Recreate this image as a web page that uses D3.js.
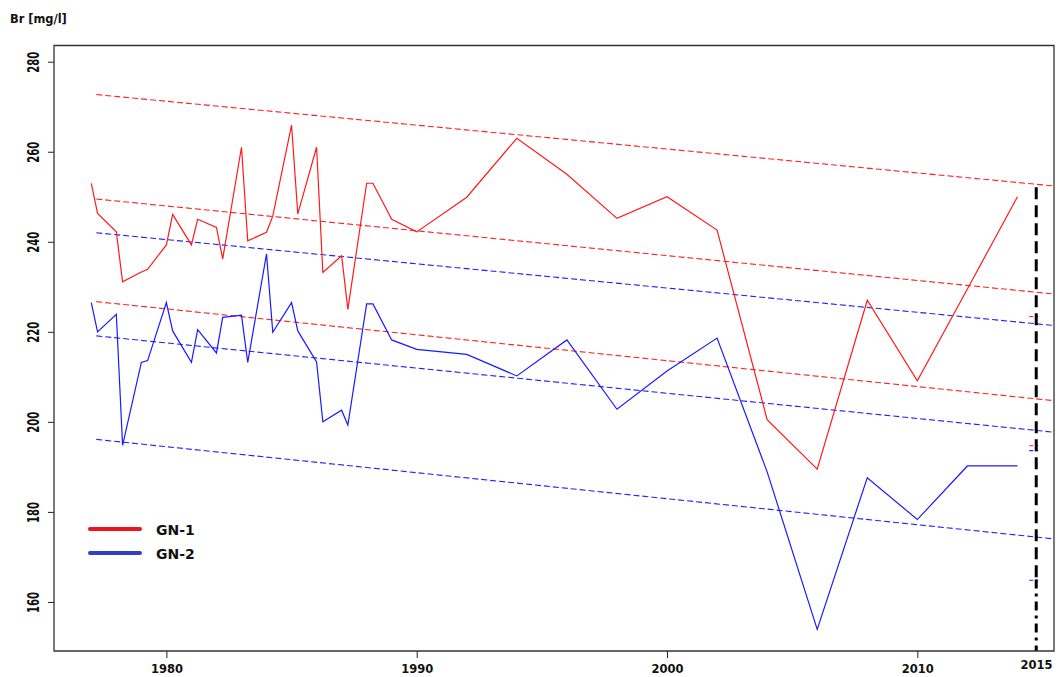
<!DOCTYPE html>
<html>
<head>
<meta charset="utf-8">
<script src="https://cdn.jsdelivr.net/npm/d3@7"></script>
<style>
  body { margin: 0; background: #fff; }
  svg { display: block; font-family: "DejaVu Sans", Verdana, sans-serif; }
</style>
</head>
<body>
<svg id="canvas" width="1059" height="677"></svg>
<script>

// sampling dates (decimal years)
var years = [1977.0, 1977.25, 1978.0, 1978.25, 1979.0, 1979.25, 1980.0, 1980.25,
	1981.0, 1981.25, 1982.0, 1982.25, 1983.0, 1983.25, 1984.0, 1984.25,
	1985.0, 1985.25, 1986.0, 1986.25, 1987.0, 1987.25, 1988.0, 1988.25,
	1989.0, 1990, 1992, 1994, 1996, 1998, 2000, 2002, 2004, 2006, 2008, 2010, 2012, 2014];

// Br [mg/l]
var gn1 = [253.0, 246.3, 242.2, 231.1, 233.3, 233.9, 239.3, 246.1,
	239.3, 245.0, 243.2, 236.2, 261.0, 240.2, 242.1, 245.7,
	265.9, 246.2, 261.0, 233.2, 236.9, 225.0, 253.0, 253.0,
	245.0, 242.2, 249.9, 263.0, 255.0, 245.2, 250.0, 242.6, 200.5, 189.5, 227.0, 209.1, 229.5, 250.0];

var gn2 = [226.5, 220.0, 223.9, 194.8, 213.2, 213.6, 226.5, 220.2,
	213.2, 220.5, 215.3, 223.2, 223.7, 213.2, 237.3, 219.9,
	226.5, 220.2, 213.3, 200.0, 202.6, 199.3, 226.2, 226.2,
	218.2, 216.1, 215.0, 210.2, 218.2, 202.8, 211.3, 218.6, 188.9, 153.9, 187.6, 178.3, 190.2, 190.2];

// trend line and bands: [fromYear, fromValue, toYear, toValue]
var gn1Trend = [[1977.2, 272.7, 2015.46, 252.4], [1977.2, 249.5, 2015.46, 228.4], [1977.2, 226.7, 2015.46, 204.7]];
var gn2Trend = [[1977.2, 242.0, 2015.46, 221.4], [1977.2, 219.1, 2015.46, 197.7], [1977.2, 196.1, 2015.46, 174.0]];

// short marks at the forecast date
var gn1Marks = [223.4, 194.7];
var gn2Marks = [193.6, 164.8];
var forecastYear = 2014.75;

var xTicks = [1980, 1990, 2000, 2010];
var yTicks = [160, 180, 200, 220, 240, 260, 280];

var seriesNames = ["GN-1", "GN-2"];

var width = 1059, height = 677;
var plot = {left: 54, top: 45.5, right: 1054, bottom: 651};

var svg = d3.select("#canvas");

var x = d3.scaleLinear().domain([1975.51, 2015.46]).range([plot.left, plot.right]);
var y = d3.scaleLinear().domain([149.1, 283.6]).range([plot.bottom, plot.top]);

// y axis
var yAxis = svg.append("g")
	.attr("transform", "translate(" + plot.left + ",0)")
	.call(d3.axisLeft(y).tickValues(yTicks).tickSize(6).tickFormat(d3.format("d")));
yAxis.select(".domain").remove();
yAxis.selectAll(".tick line").attr("stroke", "#222");
yAxis.selectAll(".tick text")
	.attr("x", null).attr("dy", null)
	.attr("transform", "translate(-15,0) rotate(-90)")
	.attr("text-anchor", "middle")
	.attr("textLength", 21)
	.attr("lengthAdjust", "spacingAndGlyphs")
	.style("font-family", "DejaVu Sans")
	.style("font-weight", "bold")
	.style("font-size", "15px")
	.attr("fill", "#111");

// x axis
var xAxis = svg.append("g")
	.attr("transform", "translate(0," + plot.bottom + ")")
	.call(d3.axisBottom(x).tickValues(xTicks).tickSize(7).tickFormat(d3.format("d")));
xAxis.select(".domain").remove();
xAxis.selectAll(".tick line").attr("stroke", "#222");
xAxis.selectAll(".tick text")
	.attr("y", 22).attr("dy", null)
	.attr("textLength", 32)
	.attr("lengthAdjust", "spacingAndGlyphs")
	.style("font-family", "DejaVu Sans")
	.style("font-weight", "bold")
	.style("font-size", "13px")
	.attr("fill", "#111");

svg.append("text")
	.attr("x", x(2015) - 6)
	.attr("y", 669)
	.attr("text-anchor", "middle")
	.attr("textLength", 32)
	.attr("lengthAdjust", "spacingAndGlyphs")
	.style("font-weight", "bold")
	.style("font-size", "13px")
	.attr("fill", "#111")
	.text("2015");

// unit label
svg.append("text")
	.attr("x", 10)
	.attr("y", 23)
	.style("font-weight", "bold")
	.style("font-size", "11.4px")
	.attr("fill", "#111")
	.text("Br [mg/l]");

// clip for everything inside the box
svg.append("clipPath").attr("id", "clip")
	.append("rect")
	.attr("x", plot.left).attr("y", plot.top)
	.attr("width", plot.right - plot.left).attr("height", plot.bottom - plot.top);

var inner = svg.append("g").attr("clip-path", "url(#clip)");

function drawTrend(lines, color) {
	inner.selectAll(null)
		.data(lines)
		.enter().append("line")
		.attr("x1", function(d) { return x(d[0]); })
		.attr("y1", function(d) { return y(d[1]); })
		.attr("x2", function(d) { return x(d[2]); })
		.attr("y2", function(d) { return y(d[3]); })
		.attr("stroke", color)
		.attr("stroke-width", 1.1)
		.attr("stroke-dasharray", "6,3");
}

drawTrend(gn1Trend, "#ff2020");
drawTrend(gn2Trend, "#2020ff");

function drawMarks(values, color) {
	inner.selectAll(null)
		.data(values)
		.enter().append("line")
		.attr("x1", x(forecastYear) - 7)
		.attr("x2", x(forecastYear) + 2)
		.attr("y1", function(d) { return y(d); })
		.attr("y2", function(d) { return y(d); })
		.attr("stroke", color)
		.attr("stroke-width", 1.1)
		.attr("stroke-dasharray", "4,2");
}

drawMarks(gn1Marks, "#ff2020");
drawMarks(gn2Marks, "#2020ff");

var line = d3.line()
	.x(function(d) { return x(d[0]); })
	.y(function(d) { return y(d[1]); });

inner.append("path")
	.datum(d3.zip(years, gn1))
	.attr("d", line)
	.attr("fill", "none")
	.attr("stroke", "#ff1a1a")
	.attr("stroke-width", 1.2);

inner.append("path")
	.datum(d3.zip(years, gn2))
	.attr("d", line)
	.attr("fill", "none")
	.attr("stroke", "#1a1aff")
	.attr("stroke-width", 1.2);

// forecast date marker
var split = 165;
inner.append("line")
	.attr("x1", x(forecastYear)).attr("x2", x(forecastYear))
	.attr("y1", y(252.1)).attr("y2", y(split))
	.attr("stroke", "#000")
	.attr("stroke-width", 3)
	.attr("stroke-dasharray", "12,6");

inner.append("line")
	.attr("x1", x(forecastYear)).attr("x2", x(forecastYear))
	.attr("y1", y(split)).attr("y2", plot.bottom)
	.attr("stroke", "#000")
	.attr("stroke-width", 3)
	.attr("stroke-dasharray", "9,5,3,5");

// box
svg.append("path")
	.attr("d", "M" + plot.left + "," + plot.bottom + "V" + plot.top + "H" + plot.right + "V" + plot.bottom + "Z")
	.attr("fill", "none")
	.attr("stroke", "#333")
	.attr("stroke-width", 1.3);

// legend
var legendColors = ["#e8141e", "#3240c8"];
var legend = svg.append("g");
var legendY = d3.scalePoint().domain(seriesNames).range([529, 553]);

legend.selectAll("line")
	.data(seriesNames)
	.enter().append("line")
	.attr("x1", 90).attr("x2", 140)
	.attr("y1", function(d) { return legendY(d); })
	.attr("y2", function(d) { return legendY(d); })
	.attr("stroke", function(d, i) { return legendColors[i]; })
	.attr("stroke-width", 4)
	.attr("stroke-linecap", "round");

legend.selectAll("text")
	.data(seriesNames)
	.enter().append("text")
	.attr("x", 156)
	.attr("y", function(d) { return legendY(d) + 5.5; })
	.style("font-weight", "bold")
	.style("font-size", "14px")
	.attr("fill", "#111")
	.text(function(d) { return d; });

</script>
</body>
</html>
